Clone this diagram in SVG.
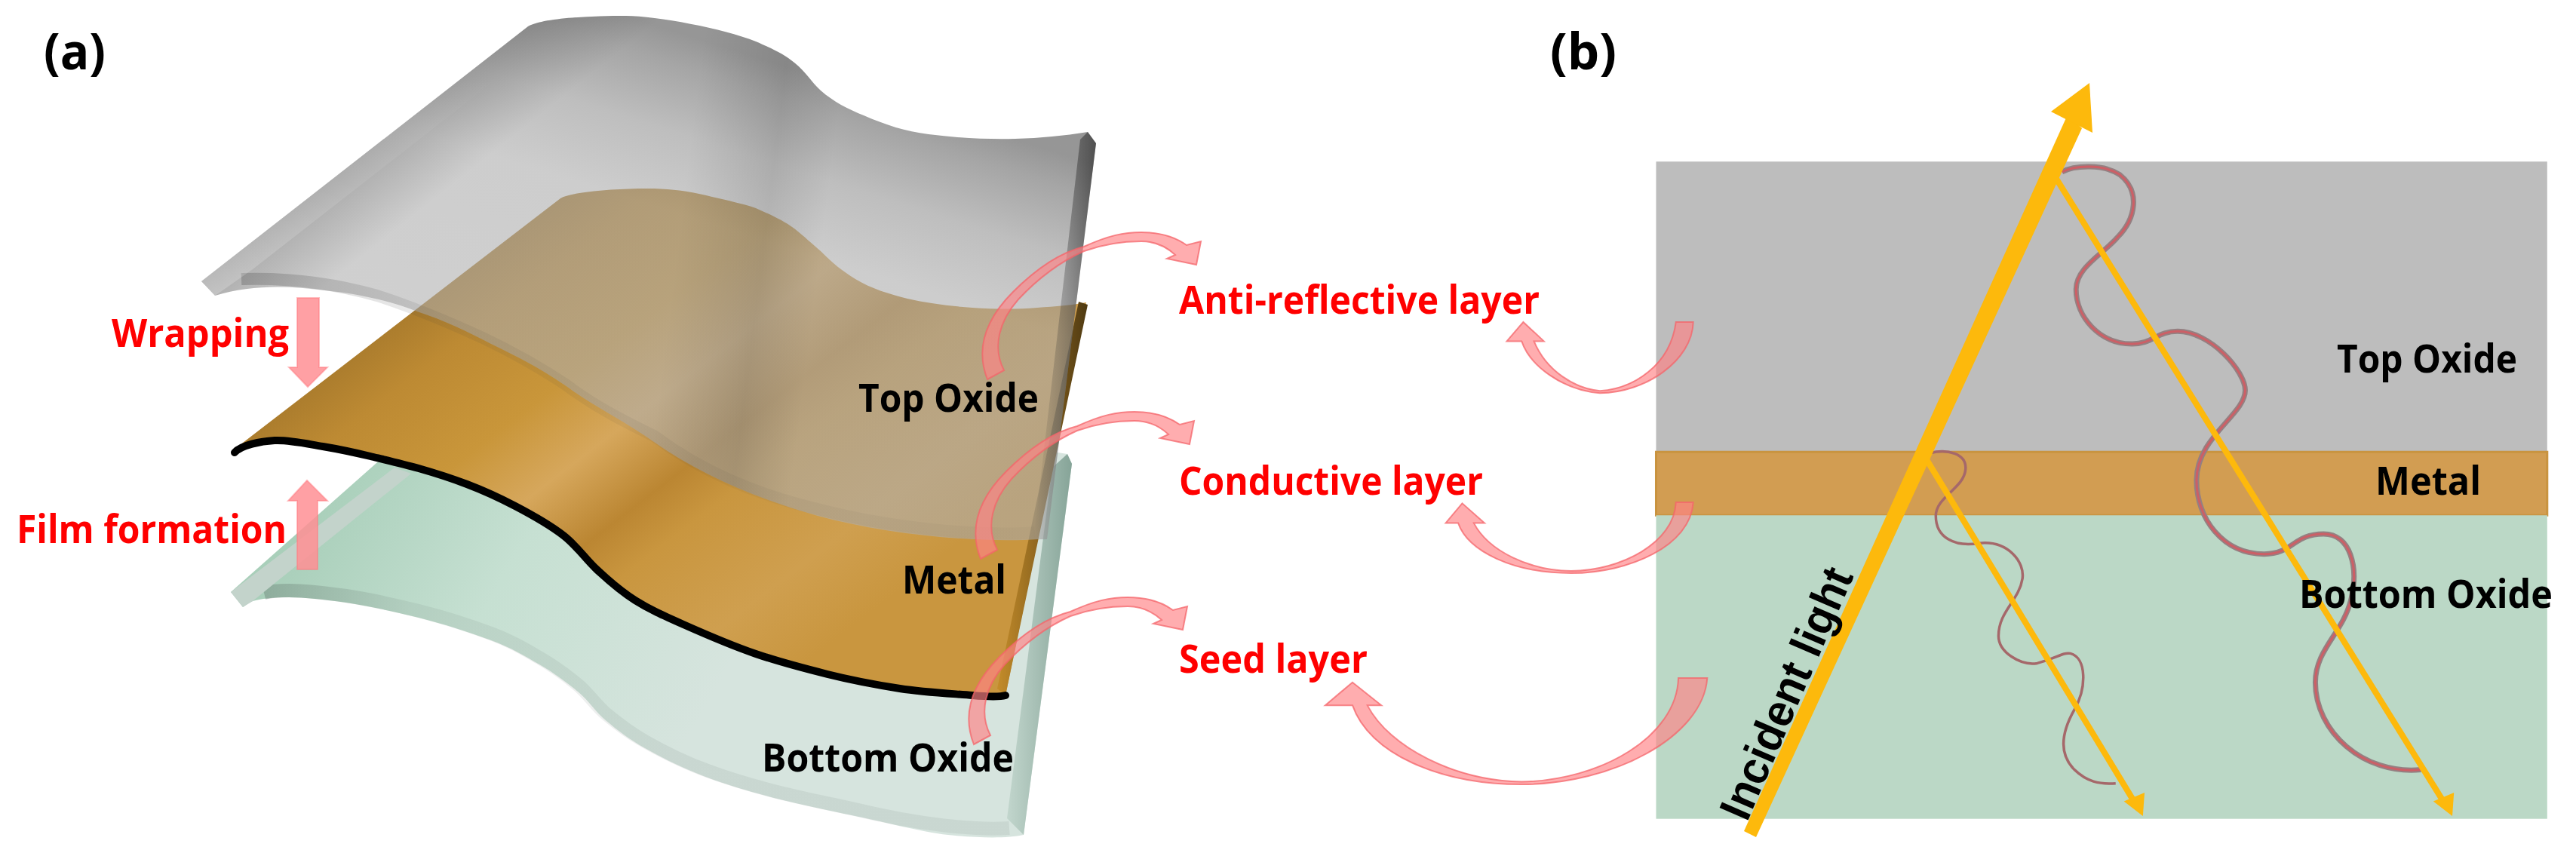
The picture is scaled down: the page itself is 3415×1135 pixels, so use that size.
<svg xmlns="http://www.w3.org/2000/svg" width="3415" height="1135" viewBox="0 0 3415 1135">
<style>
text{font-family:"Open Sans","Noto Sans","Liberation Sans",sans-serif;font-weight:700;}
.r{fill:#ff0000;font-size:52px;}
.k{fill:#000;font-size:52px;}
.h{fill:#000;font-size:66px;}
.il{fill:#000;font-size:60px;font-family:"Liberation Sans",Arial,sans-serif;}
.ns{vector-effect:non-scaling-stroke;}
.pink{fill:#ff8286;fill-opacity:.66;stroke:#f4646a;stroke-width:2;stroke-opacity:.75;vector-effect:non-scaling-stroke;}
.bar{fill:#ff8f94;fill-opacity:.85;stroke:#ff7a80;stroke-opacity:.5;stroke-width:2;}
.y{fill:#fdb90c;}
.yl{stroke:#fdb90c;stroke-width:8;fill:none;vector-effect:non-scaling-stroke;}
</style>
<defs>
<linearGradient id="gTop" gradientUnits="userSpaceOnUse" x1="830" y1="21" x2="676" y2="507">
<stop offset="0" stop-color="#4a4a4a" stop-opacity=".58"/>
<stop offset=".08" stop-color="#646464" stop-opacity=".58"/>
<stop offset=".25" stop-color="#8f8f8f" stop-opacity=".58"/>
<stop offset=".45" stop-color="#a9a9a9" stop-opacity=".58"/>
<stop offset="1" stop-color="#aeaeae" stop-opacity=".58"/>
</linearGradient>
<linearGradient id="gRidge" gradientUnits="userSpaceOnUse" x1="900" y1="300" x2="1090" y2="324">
<stop offset="0" stop-color="#000" stop-opacity="0"/>
<stop offset=".6" stop-color="#000" stop-opacity=".1"/>
<stop offset="1" stop-color="#000" stop-opacity="0"/>
</linearGradient>
<linearGradient id="gTopEdge" gradientUnits="userSpaceOnUse" x1="690" y1="30" x2="760" y2="118">
<stop offset="0" stop-color="#000" stop-opacity=".2"/>
<stop offset="1" stop-color="#000" stop-opacity="0"/>
</linearGradient>
<linearGradient id="gLip" gradientUnits="userSpaceOnUse" x1="0" y1="392" x2="0" y2="100">
<stop offset="0" stop-color="#fff" stop-opacity=".22"/>
<stop offset=".5" stop-color="#fff" stop-opacity=".08"/>
<stop offset="1" stop-color="#fff" stop-opacity="0"/>
</linearGradient>
<linearGradient id="gTopRim" gradientUnits="userSpaceOnUse" x1="320" y1="0" x2="1372" y2="0">
<stop offset="0" stop-color="#333" stop-opacity=".24"/>
<stop offset=".25" stop-color="#333" stop-opacity=".08"/>
<stop offset="1" stop-color="#333" stop-opacity=".03"/>
</linearGradient>
<linearGradient id="gTopSide" x1="0" y1="0" x2="1" y2="0">
<stop offset="0" stop-color="#333" stop-opacity="0"/>
<stop offset="1" stop-color="#222" stop-opacity=".6"/>
</linearGradient>
<linearGradient id="gMetal" gradientUnits="userSpaceOnUse" x1="500" y1="430" x2="928" y2="986">
<stop offset="0" stop-color="#a87a2c"/>
<stop offset=".12" stop-color="#bd8a33"/>
<stop offset=".3" stop-color="#c9963a"/>
<stop offset=".435" stop-color="#d6a75c"/>
<stop offset=".57" stop-color="#bb8632"/>
<stop offset=".66" stop-color="#c9963f"/>
<stop offset=".85" stop-color="#cf9f4f"/>
<stop offset="1" stop-color="#c9963f"/>
</linearGradient>
<linearGradient id="gMetalSide" x1="0" y1="0" x2="1" y2="0">
<stop offset="0" stop-color="#c48c2a"/>
<stop offset="1" stop-color="#4f3a12"/>
</linearGradient>
<linearGradient id="gBot" gradientUnits="userSpaceOnUse" x1="400" y1="700" x2="900" y2="1000">
<stop offset="0" stop-color="#a9cfba"/>
<stop offset=".45" stop-color="#c6e0d2"/>
<stop offset="1" stop-color="#d6e4de"/>
</linearGradient>
<linearGradient id="gBotRim" gradientUnits="userSpaceOnUse" x1="345" y1="0" x2="1340" y2="0">
<stop offset="0" stop-color="#4c5a54" stop-opacity=".3"/>
<stop offset=".2" stop-color="#6c7a74" stop-opacity=".12"/>
<stop offset="1" stop-color="#6c7a74" stop-opacity=".12"/>
</linearGradient>
<linearGradient id="gBotSide" x1="0" y1="0" x2="1" y2="0">
<stop offset="0" stop-color="#c2d6cd"/>
<stop offset="1" stop-color="#86a498"/>
</linearGradient>
<path id="topShape" d="M285,392 L267,373 L700,35 C720,24 780,21 830,21 C870,21 960,38 1002,55 C1025,65 1040,72 1053,83 C1070,97 1075,108 1088,120 C1105,135 1125,145 1145,153 C1175,166 1200,174 1231,178 C1270,183 1310,185 1346,184 C1380,183 1410,180 1442,175 L1453,190 L1388,715 L1377,715 C1300,720 1180,710 1084,684 C1000,660 930,630 867,586 C830,560 790,540 759,518 C720,490 690,475 651,456 C620,440 590,425 553,413 C520,400 480,390 430,385 C380,378 330,378 285,392 Z"/>
<path id="curve" d="M1309,503 C1296,470 1300,430 1343,387 C1375,355 1405,335 1437,327 C1470,312 1490,308 1513,308 C1535,308 1555,312 1573,325 L1592,320 L1586,351 L1547,343 L1558,338 C1545,326 1530,320 1513,320 C1490,320 1465,323 1437,333 C1410,345 1380,365 1350,397 C1325,425 1315,460 1331,491 Z"/>
</defs>
<rect width="3415" height="1135" fill="#fff"/>

<g id="panel-a-layers">
<g id="bottom-oxide-sheet">
<path d="M322,805 L306,785 L650,480 L1415,602 L1421,615 L1357,1107 C1335,1112 1295,1111 1257,1107 C1219,1103 1166,1088 1129,1081 C1092,1073 1066,1068 1034,1060 C1002,1052 968,1042 938,1031 C908,1020 877,1004.5 855,992 C833,979.5 819,968.5 804,956 C789,943.5 781,929.5 766,917 C751,904.5 734,892 715,881 C696,870 678,859 651,849 C624,839 587,827 555,819 C523,811 488,803.5 459,799 C430,795 404,792 383,792 C362,792 345,794 335,797 C330,799 326,802 322,805 Z" fill="url(#gBot)"/>
<path d="M1338,1098 C1295,1101 1219,1094 1129,1072 C1092,1064 1066,1059 1034,1051 C1002,1043 968,1033 938,1022 C908,1011 877,995.5 855,983 C833,970.5 819,959.5 804,947 C789,934.5 781,920.5 766,908 C751,895.5 734,883 715,872 C696,861 678,850 651,840 C624,830 587,818 555,810 C523,802 488,794.5 459,790 C430,786 404,783 383,783 C370,783 358,784 350,786" fill="none" stroke="url(#gBotRim)" stroke-width="18"/>
<path d="M322,805 L306,785 L523,620 L545,628 L367,771 L335,797 Z" fill="#c3d3cb"/>
<path d="M1415,602 L1421,615 L1357,1107 L1335,1085 L1395,620 Z" fill="url(#gBotSide)"/>
</g>
<g id="metal-sheet">
<path d="M309,597 L743,263 C755,255 810,250 858,250 C895,250 920,255 944,261 C965,266 985,270 1002,276 C1022,285 1038,292 1053,303 C1068,315 1075,322 1088,333 C1105,350 1115,358 1134,370 C1155,383 1180,390 1203,396 C1230,402 1260,406 1289,408 C1320,410 1350,410 1375,408 C1400,406 1420,405 1440,401 L1333,922 C1326,924 1312,924 1289,922 C1266,920 1225,918 1193,913 C1161,908 1129,902 1097,894 C1065,886 1034,878 1002,867 C970,856 933,840 906,828 C879,816 861,808 842,796 C823,784 806,769 791,755 C776,741 765,724 747,710 C729,696 704,682 683,671 C662,660 640,650 619,642 C598,634 576,627 555,621 C534,615 512,610 491,605 C470,600 449,595.5 428,592 C407,588.5 384,583 364,584 C346,585 320,590 309,597 Z" fill="url(#gMetal)"/>
<path d="M1430,400 L1442,404 L1333,922 L1322,913 Z" fill="url(#gMetalSide)"/>
<path d="M1333,922 C1326,924 1312,924 1289,922 C1266,920 1225,918 1193,913 C1161,908 1129,902 1097,894 C1065,886 1034,878 1002,867 C970,856 933,840 906,828 C879,816 861,808 842,796 C823,784 806,769 791,755 C776,741 765,724 747,710 C729,696 704,682 683,671 C662,660 640,650 619,642 C598,634 576,627 555,621 C534,615 512,610 491,605 C470,600 449,595.5 428,592 C407,588.5 384,583 364,584 C346,585 320,590 311,600" fill="none" stroke="#000" stroke-width="10" stroke-linecap="round"/>
</g>
<g id="top-oxide-sheet">
<use href="#topShape" fill="url(#gTop)"/>
<use href="#topShape" fill="url(#gRidge)"/>
<use href="#topShape" fill="url(#gTopEdge)"/>
<path d="M320,370 C380,368 440,375 500,392 C540,405 590,425 640,448 C680,467 720,490 750,510 C790,540 830,560 867,578 C930,625 1000,655 1084,675 C1180,700 1300,712 1372,706" fill="none" stroke="url(#gTopRim)" stroke-width="16"/>
<path d="M285,392 L267,373 L700,35 L735,45 L335,357 L298,383 Z" fill="url(#gLip)"/>
<path d="M1442,175 L1453,190 L1388,715 L1370,716 L1432,185 Z" fill="url(#gTopSide)"/>
</g>
</g>

<g id="panel-b-layers" transform="translate(1700,0) scale(1.0938,.7238)">
<rect id="b-top-oxide" x="453" y="296" width="1080" height="532" fill="#bdbdbd"/>
<rect id="b-metal" x="453" y="828" width="1080" height="116" fill="#d29d52" stroke="#c99440" stroke-width="3" class="ns"/>
<rect id="b-bottom-oxide" x="453" y="944" width="1080" height="556" fill="#bbd8c6"/>
</g>

<g id="connectors">
<path class="bar" d="M394,395 H423 V487 H434 L408,513 L383,487 H394 Z"/>
<path class="bar" d="M394,755 H421 V664 H434 L407,637 L382,664 H394 Z"/>
<use href="#curve" class="pink"/>
<use href="#curve" class="pink" transform="translate(-9,238)"/>
<use href="#curve" class="pink" transform="translate(-18,484)"/>
<g transform="translate(1700,0) scale(1.0938,.7238)">
<path class="pink" d="M477,590 L498,590 C497,660 440,720 385,720 C340,715 300,670 290,625 L272,625 L292,590 L317,625 L305,625 C320,680 355,712 385,716 C425,712 470,670 477,590 Z"/>
<path class="pink" d="M477,920 L498,920 C495,1000 420,1050 350,1050 C280,1050 225,1010 213,958 L198,958 L218,922 L245,958 L232,958 C250,1010 300,1045 350,1046 C410,1045 475,995 477,920 Z"/>
<path class="pink" d="M480,1242 L515,1242 C510,1350 400,1437 290,1437 C190,1437 105,1380 85,1292 L52,1292 L85,1250 L120,1292 L103,1292 C130,1370 210,1430 290,1432 C385,1430 478,1350 480,1242 Z"/>
<path class="ns" d="M945,315 C960,303 995,300 1015,320 C1040,350 1035,400 1012,435 C995,465 962,490 962,530 C962,580 990,630 1030,630 C1055,630 1060,607 1085,607 C1125,607 1167,680 1167,715 C1167,760 1108,800 1108,880 C1108,950 1140,1015 1190,1015 C1225,1015 1225,978 1262,978 C1295,978 1305,1040 1295,1100 C1285,1160 1252,1190 1252,1250 C1252,1340 1310,1420 1380,1410" fill="none" stroke="#948082" stroke-width="7"/>
<path class="ns" d="M945,315 C960,303 995,300 1015,320 C1040,350 1035,400 1012,435 C995,465 962,490 962,530 C962,580 990,630 1030,630 C1055,630 1060,607 1085,607 C1125,607 1167,680 1167,715 C1167,760 1108,800 1108,880 C1108,950 1140,1015 1190,1015 C1225,1015 1225,978 1262,978 C1295,978 1305,1040 1295,1100 C1285,1160 1252,1190 1252,1250 C1252,1340 1310,1420 1380,1410" fill="none" stroke="#cc5f66" stroke-width="3"/>
<path class="ns" d="M785,830 C805,822 830,830 828,860 C826,895 792,910 792,945 C792,985 815,1003 845,995 C880,990 900,1030 897,1060 C893,1100 868,1120 868,1165 C868,1195 895,1220 915,1215 C940,1205 945,1195 955,1197 C975,1205 975,1260 960,1300 C945,1340 940,1380 960,1410 C975,1432 990,1437 1010,1435" fill="none" stroke="#a5686a" stroke-width="3.5"/>
<path class="yl" d="M935,320 L1410,1475"/>
<path class="y" d="M1418,1495 L1395,1468 L1420,1452 Z"/>
<path class="yl" d="M778,835 L1035,1475"/>
<path class="y" d="M1043,1495 L1020,1468 L1045,1452 Z"/>
</g>
<path class="y" d="M2312,1102 L2328,1110 L2760,170 L2741,152 Z"/>
<path class="y" d="M2770,110 L2719,148 L2774,176 Z"/>
</g>

<g id="labels">
<text id="label-a" class="h" x="58" y="92" textLength="82" lengthAdjust="spacingAndGlyphs">(a)</text>
<text id="label-b" class="h" x="2055" y="92" textLength="88" lengthAdjust="spacingAndGlyphs">(b)</text>
<text class="r" x="148" y="460" textLength="235" lengthAdjust="spacingAndGlyphs">Wrapping</text>
<text class="r" x="22" y="720" textLength="358" lengthAdjust="spacingAndGlyphs">Film formation</text>
<text class="k" x="1138" y="546" textLength="239" lengthAdjust="spacingAndGlyphs">Top Oxide</text>
<text class="k" x="1196" y="787" textLength="138" lengthAdjust="spacingAndGlyphs">Metal</text>
<text class="k" x="1010" y="1023" textLength="334" lengthAdjust="spacingAndGlyphs">Bottom Oxide</text>
<text class="r" x="1563" y="416" textLength="478" lengthAdjust="spacingAndGlyphs">Anti-reflective layer</text>
<text class="r" x="1563" y="656" textLength="403" lengthAdjust="spacingAndGlyphs">Conductive layer</text>
<text class="r" x="1563" y="892" textLength="250" lengthAdjust="spacingAndGlyphs">Seed layer</text>
<text class="k" x="3098" y="494" textLength="239" lengthAdjust="spacingAndGlyphs">Top Oxide</text>
<text class="k" x="3149" y="656" textLength="140" lengthAdjust="spacingAndGlyphs">Metal</text>
<text class="k" x="3048" y="806" textLength="336" lengthAdjust="spacingAndGlyphs">Bottom Oxide</text>
<text class="il" transform="translate(2316,1091) rotate(-66.6)" textLength="357" lengthAdjust="spacingAndGlyphs">Incident light</text>
</g>
</svg>
